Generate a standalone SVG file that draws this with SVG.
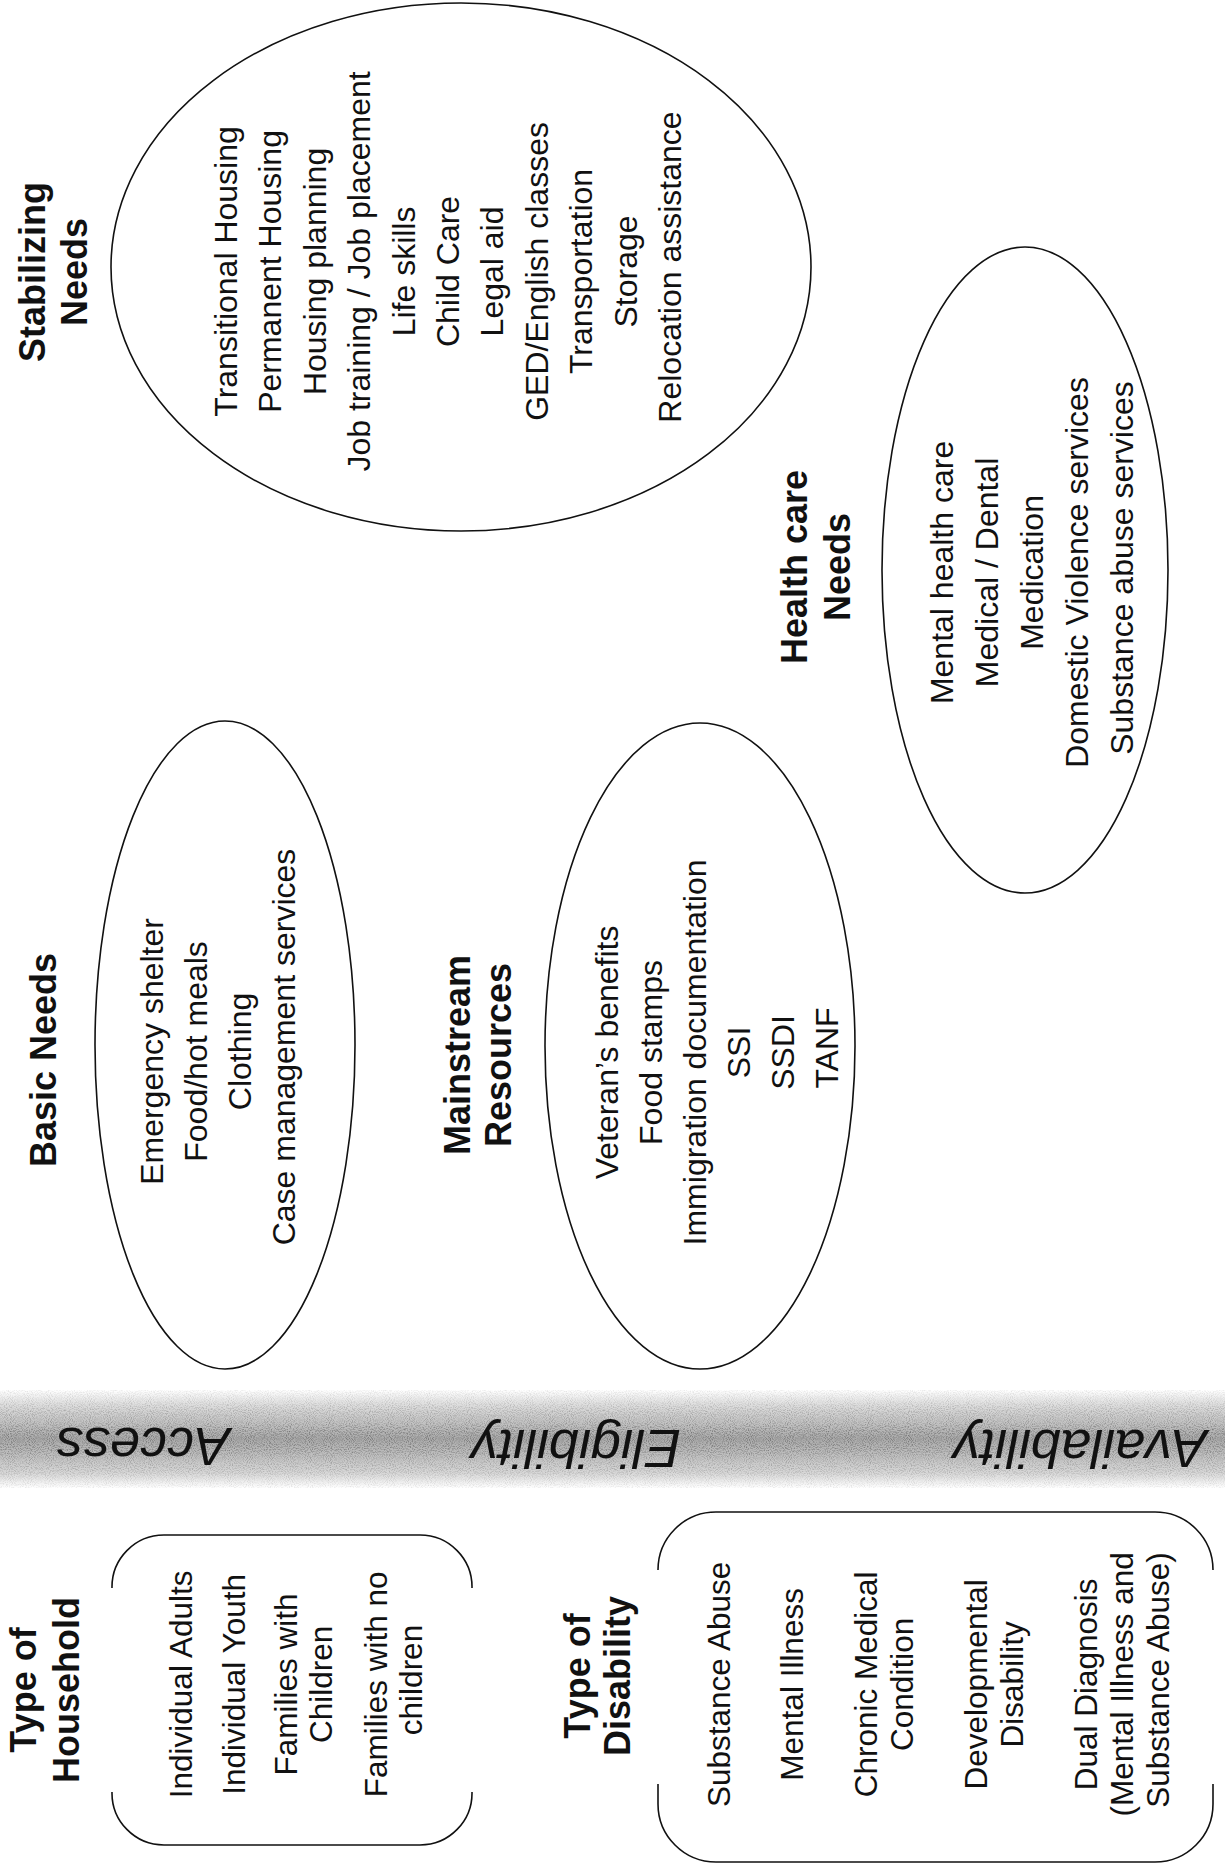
<svg xmlns="http://www.w3.org/2000/svg" width="1225" height="1875" viewBox="0 0 1225 1875">
<style>
text{font-family:"Liberation Sans",Arial,sans-serif;fill:#111;}
.t{font-weight:bold;font-size:36px;}
.i{font-size:32px;}
.s{font-size:31.5px;}
.b{font-size:54px;font-style:italic;}
.sh{fill:none;stroke:#111;stroke-width:1.6;}
</style>
<defs>
<linearGradient id="band" x1="0" y1="0" x2="0" y2="1">
<stop offset="0" stop-color="#ffffff"/>
<stop offset="0.15" stop-color="#dedede"/>
<stop offset="0.5" stop-color="#ababab"/>
<stop offset="0.85" stop-color="#d8d8d8"/>
<stop offset="1" stop-color="#ffffff"/>
</linearGradient>
<linearGradient id="fade" x1="0" y1="0" x2="0" y2="1">
<stop offset="0" stop-color="#fff" stop-opacity="0.2"/>
<stop offset="0.5" stop-color="#fff" stop-opacity="1"/>
<stop offset="1" stop-color="#fff" stop-opacity="0.2"/>
</linearGradient>
<mask id="bandmask">
<rect x="0" y="1388" width="1225" height="102" fill="url(#fade)"/>
</mask>
<filter id="noise" x="0" y="0" width="100%" height="100%">
<feTurbulence type="fractalNoise" baseFrequency="0.95" numOctaves="1" seed="7"/>
<feColorMatrix type="matrix" values="0 0 0 0 0  0 0 0 0 0  0 0 0 0 0  2.2 0 0 0 -0.95"/>
</filter>
</defs>
<rect width="1225" height="1875" fill="#fff"/>

<g id="band-group">
<rect x="0" y="1390" width="1225" height="98" fill="url(#band)"/>
<rect x="0" y="1390" width="1225" height="98" filter="url(#noise)" mask="url(#bandmask)" opacity="0.45"/>
<text class="b" text-anchor="middle" transform="translate(143,1428) rotate(180)">Access</text>
<text class="b" text-anchor="middle" transform="translate(576,1430) rotate(180)">Eligibility</text>
<text class="b" text-anchor="middle" transform="translate(1080,1430) rotate(180)">Availability</text>
</g>

<g id="stabilizing">
<ellipse class="sh" cx="461" cy="267" rx="350" ry="264"/>
<text class="t" transform="rotate(-90)" text-anchor="middle"><tspan x="-272" y="45">Stabilizing</tspan><tspan x="-272" y="87">Needs</tspan></text>
<text class="i" transform="rotate(-90)" text-anchor="middle">
<tspan x="-267" y="237">Transitional Housing</tspan>
<tspan x="-267" y="281">Permanent Housing</tspan>
<tspan x="-267" y="326">Housing planning</tspan>
<tspan x="-267" y="370">Job training / Job placement</tspan>
<tspan x="-267" y="415">Life skills</tspan>
<tspan x="-267" y="459">Child Care</tspan>
<tspan x="-267" y="503">Legal aid</tspan>
<tspan x="-267" y="548">GED/English classes</tspan>
<tspan x="-267" y="592">Transportation</tspan>
<tspan x="-267" y="637">Storage</tspan>
<tspan x="-267" y="681">Relocation assistance</tspan>
</text>
</g>

<g id="healthcare">
<ellipse class="sh" cx="1025" cy="570" rx="143" ry="323"/>
<text class="t" transform="rotate(-90)" text-anchor="middle"><tspan x="-567" y="807">Health care</tspan><tspan x="-567" y="850">Needs</tspan></text>
<text class="i" transform="rotate(-90)" text-anchor="middle">
<tspan x="-568" y="953">Mental health care</tspan>
<tspan x="-568" y="998">Medical / Dental</tspan>
<tspan x="-568" y="1043">Medication</tspan>
<tspan x="-568" y="1088">Domestic Violence services</tspan>
<tspan x="-568" y="1133">Substance abuse services</tspan>
</text>
</g>

<g id="basic">
<ellipse class="sh" cx="225" cy="1045" rx="130" ry="324"/>
<text class="t" transform="rotate(-90)" text-anchor="middle"><tspan x="-1060" y="56">Basic Needs</tspan></text>
<text class="i" transform="rotate(-90)" text-anchor="middle">
<tspan x="-1047" y="163">Emergency shelter</tspan>
<tspan x="-1047" y="207">Food/hot meals</tspan>
<tspan x="-1047" y="251">Clothing</tspan>
<tspan x="-1047" y="295">Case management services</tspan>
</text>
</g>

<g id="mainstream">
<ellipse class="sh" cx="700" cy="1046" rx="155" ry="323"/>
<text class="t" transform="rotate(-90)" text-anchor="middle"><tspan x="-1055" y="470">Mainstream</tspan><tspan x="-1055" y="511">Resources</tspan></text>
<text class="i" transform="rotate(-90)" text-anchor="middle">
<tspan x="-1048" y="618">Veteran’s benefits</tspan>
<tspan x="-1048" y="662">Food stamps</tspan>
<tspan x="-1048" y="706">Immigration documentation</tspan>
<tspan x="-1048" y="750">SSI</tspan>
<tspan x="-1048" y="794">SSDI</tspan>
<tspan x="-1048" y="838">TANF</tspan>
</text>
</g>

<g id="household">
<path class="sh" d="M112,1588 A52,52 0 0 1 164,1535 L420,1535 A52,52 0 0 1 472,1588"/>
<path class="sh" d="M112,1792 A52,52 0 0 0 164,1845 L420,1845 A52,52 0 0 0 472,1792"/>
<text class="t" transform="rotate(-90)" text-anchor="middle"><tspan x="-1690" y="36">Type of</tspan><tspan x="-1690" y="79">Household</tspan></text>
<text class="s" transform="rotate(-90)" text-anchor="middle">
<tspan x="-1680" y="192">Individual Adults</tspan>
<tspan x="-1680" y="245">Individual Youth</tspan>
<tspan x="-1680" y="297">Families with</tspan>
<tspan x="-1680" y="332">Children</tspan>
<tspan x="-1680" y="387">Families with no</tspan>
<tspan x="-1680" y="422">children</tspan>
</text>
</g>

<g id="disability">
<path class="sh" d="M658,1570 A58,58 0 0 1 716,1512 L1155,1512 A58,58 0 0 1 1213,1570"/>
<path class="sh" d="M658,1784 L658,1804 A58,58 0 0 0 716,1862 L1155,1862 A58,58 0 0 0 1213,1804 L1213,1784"/>
<text class="t" transform="rotate(-90)" text-anchor="middle"><tspan x="-1676" y="590">Type of</tspan><tspan x="-1676" y="630">Disability</tspan></text>
<text class="s" transform="rotate(-90)" text-anchor="middle">
<tspan x="-1680" y="730">Substance Abuse</tspan>
<tspan x="-1680" y="803">Mental Illness</tspan>
<tspan x="-1680" y="877">Chronic Medical</tspan>
<tspan x="-1680" y="913">Condition</tspan>
<tspan x="-1680" y="987">Developmental</tspan>
<tspan x="-1680" y="1023">Disability</tspan>
<tspan x="-1680" y="1097">Dual Diagnosis</tspan>
<tspan x="-1680" y="1133">(Mental Illness and</tspan>
<tspan x="-1680" y="1169">Substance Abuse)</tspan>
</text>
</g>

<g id="connectors"></g>
</svg>
